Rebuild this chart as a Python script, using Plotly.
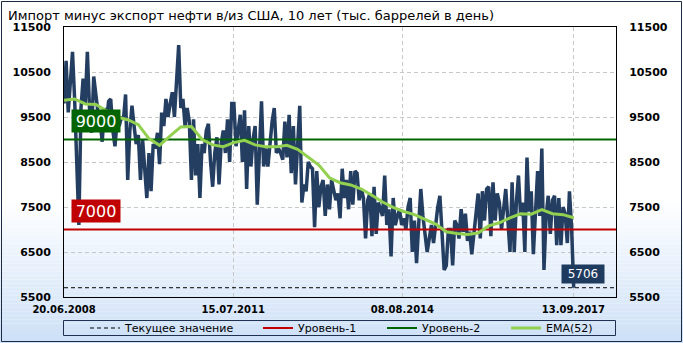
import plotly.graph_objects as go
import pandas as pd

# ---------------- data ----------------
title_text = "Импорт минус экспорт нефти в/из США, 10 лет (тыс. баррелей в день)"
start_date = "2008-06-20"
end_date = "2017-09-15"
axis_end = "2018-06-22"
tick_dates = ["2008-06-20", "2011-07-15", "2014-08-08", "2017-09-13"]
tick_labels = ["20.06.2008", "15.07.2011", "08.08.2014", "13.09.2017"]
y_ticks = [5500, 6500, 7500, 8500, 9500, 10500, 11500]

values = [
    9800, 10750, 9600, 10300, 10950, 9900, 8600, 7100, 9700, 10350,
    9800, 10950, 9700, 9150, 10400, 9900, 9600, 9400, 8950, 9700,
    9400, 9850, 9900, 9200, 8850, 9400, 9300, 9500, 9450, 10000,
    8100, 9200, 9750, 9300, 8900, 9100, 8100, 9000, 8400, 7700,
    8700, 7850, 8900, 8800, 9150, 8450, 9600, 9300, 9900, 9500,
    9800, 10050, 9500, 10400, 11100, 9700, 9900, 9300, 9700, 9400,
    8100,
    9450, 8200, 8900, 7700, 8900, 8700, 9200, 9350, 8500,
    7950, 8700, 9050, 8000, 8900, 9200, 8700, 9450, 8500, 9800,
    9800, 8850, 9200, 9550, 8500, 9650, 7900, 9300, 8400, 9000,
    9300, 7550, 8700, 9850, 8400, 8800, 8400, 9000, 9400, 9700,
    8700, 8800, 8700, 8550, 9400, 8600, 9550, 8250, 9300, 8000,
    8800, 9750, 7600, 8000, 7850, 8500, 8400, 8350, 7050, 8300,
    7500, 7950, 8100, 7300, 8000, 7450, 8100, 7900, 7650, 7800,
    7250, 8350, 7700, 8100, 7450, 8300, 7550, 8300, 8250, 7650,
    7900, 7700, 6800, 7650, 7800, 6850, 7950, 6900, 7600, 7450,
    7300, 8200, 7100, 7450, 6400, 7700, 7100, 7300, 7450, 7100,
    7250, 7000, 7500, 7700, 6500, 7200, 6250, 7100, 7900, 7300,
    6900, 6500, 6800, 7100, 6700, 7200, 7500, 7750, 7000, 6100,
    6200, 7000, 7000, 6200, 7200, 7100, 6800, 7450, 6950, 7350,
    6750, 6950, 6450, 6950, 7500, 7800, 6800, 7850, 7200, 7900,
    7950, 6850, 8050, 7200, 7800, 7600, 7000, 7500, 7900, 7200,
    6500, 8050, 6500, 7600, 8200, 7300, 7600, 6500, 8600, 7400,
    7850, 6450, 7500, 8300, 7300, 8800, 6100, 7300, 7750, 6900,
    7650, 7750, 6650, 7700, 6650, 7500, 7350, 6700, 7850, 7050,
    5706,
]

ema_step = 5
ema_values = [
    9870, 9900, 9790, 9780, 9640, 9500, 9440, 9330, 9020, 8870,
    9080, 9280, 9290, 9000, 8880, 8840, 8930, 8980, 8880, 8840,
    8840, 8870, 8780, 8600, 8430, 8150, 8040, 7990, 7900, 7760,
    7610, 7490, 7400, 7330, 7225, 7120, 6950, 6910, 6890, 6920,
    7080, 7150, 7260, 7350, 7340, 7440, 7350, 7330, 7260,
]

levels = [7000, 9000]
level_names = ["Уровень-1", "Уровень-2"]
current_name = "Текущее значение"
ema_name = "EMA(52)"

# ---------------- styles ----------------
W, H = 683, 343
PL, PR, PT, PB = 64, 616, 27, 297
FONT = "DejaVu Sans"
navy = "#243e62"
level_colors = ["#c00000", "#006400"]
ema_color = "#92d050"
legend_px = [85, 258, 382, 506]   # left edges of the four legend entries


def px_x(x):
    return (x - PL) / (PR - PL)


def px_y(y):
    return (PB - y) / (PB - PT)


dates = pd.date_range(start=start_date, end=end_date, periods=len(values))
ema_dates = dates[::ema_step]
current = values[-1]

fig = go.Figure()

fig.add_trace(go.Scatter(
    x=dates, y=values, mode="lines", showlegend=False,
    line=dict(color=navy, width=3.5), hoverinfo="skip"))

fig.add_trace(go.Scatter(
    x=[start_date, axis_end], y=[current, current], mode="lines",
    name=current_name, yaxis="y2", legend="legend",
    line=dict(color="black", width=1, dash="4px,3px")))

for i, (lv, nm, col) in enumerate(zip(levels, level_names, level_colors)):
    fig.add_trace(go.Scatter(
        x=[start_date, axis_end], y=[lv, lv], mode="lines",
        name=nm, yaxis="y2", legend="legend%d" % (i + 2),
        line=dict(color=col, width=2)))

fig.add_trace(go.Scatter(
    x=ema_dates, y=ema_values, mode="lines", name=ema_name, yaxis="y2",
    legend="legend4", line=dict(color=ema_color, width=3)))

# level labels
for lv, col in zip(levels, level_colors):
    fig.add_annotation(
        x=start_date, y=lv, xref="x", yref="y", text=str(lv),
        showarrow=False, xanchor="left", yanchor="bottom",
        xshift=7, yshift=7, bgcolor=col, borderpad=1,
        width=46, height=20,
        font=dict(family=FONT, size=16, color="white"))

# current value label
fig.add_annotation(
    x=dates[-1], y=current, xref="x", yref="y", text=str(current),
    showarrow=False, xanchor="center", yanchor="bottom",
    xshift=9, yshift=4, bgcolor="#1f3a5f", borderpad=1,
    width=40, height=16,
    font=dict(family=FONT, size=12, color="white"))

# background gradient
shapes = []
g0, g1 = 200, 343
nb = 36
top_rgb = (255, 255, 255)
bot_rgb = (205, 224, 247)
for i in range(nb):
    ya = g0 + (g1 - g0) * i / nb
    yb = g0 + (g1 - g0) * (i + 1) / nb
    t = (i + 0.5) / nb
    c = tuple(round(top_rgb[j] + (bot_rgb[j] - top_rgb[j]) * t) for j in range(3))
    shapes.append(dict(
        type="rect", xref="paper", yref="paper", layer="below",
        x0=px_x(0), x1=px_x(W), y0=px_y(yb), y1=px_y(ya),
        fillcolor="rgb(%d,%d,%d)" % c, line=dict(width=0)))

# legend frame
shapes.append(dict(
    type="rect", xref="paper", yref="paper", layer="above",
    x0=px_x(63.5), x1=px_x(615.5), y0=px_y(335.5), y1=px_y(320.5),
    line=dict(color="#1f3050", width=1), fillcolor="rgba(0,0,0,0)"))
# outer frame
shapes.append(dict(
    type="rect", xref="paper", yref="paper", layer="above",
    x0=px_x(1.5), x1=px_x(681.5), y0=px_y(341.5), y1=px_y(1.5),
    line=dict(color="#1b2a45", width=1), fillcolor="rgba(0,0,0,0)"))

yaxis_common = dict(
    range=[y_ticks[0], y_ticks[-1]], tickvals=y_ticks, tickformat="d",
    ticks="", ticklabelstandoff=10,
    tickfont=dict(family=FONT, size=11, color="black", weight="bold"),
    showline=True, linecolor="black", linewidth=1, zeroline=False,
    fixedrange=True)

legend_style = dict(orientation="h", xanchor="left",
                    y=px_y(328), yanchor="middle",
                    bgcolor="rgba(0,0,0,0)", borderwidth=0,
                    font=dict(family=FONT, size=11, color="black"),
                    itemclick=False, itemdoubleclick=False)

fig.update_layout(
    width=W, height=H,
    margin=dict(l=PL, r=W - PR, t=PT, b=H - PB, pad=0, autoexpand=False),
    paper_bgcolor="white", plot_bgcolor="rgba(0,0,0,0)",
    title=dict(text=title_text, xref="container", yref="container",
               x=8 / W, xanchor="left", y=1 - 15.5 / H, yanchor="middle",
               font=dict(family=FONT, size=13, color="black")),
    xaxis=dict(
        type="date", range=[start_date, axis_end],
        tickvals=tick_dates, ticktext=tick_labels,
        ticks="", ticklabelstandoff=3,
        tickfont=dict(family=FONT, size=10, color="black", weight="bold"),
        showgrid=True, gridcolor="#c8c8c8", gridwidth=1, griddash="4px,3px",
        showline=True, linecolor="black", linewidth=1, mirror=True,
        zeroline=False, fixedrange=True),
    yaxis=dict(**yaxis_common, side="left", showgrid=True,
               gridcolor="#c8c8c8", gridwidth=1, griddash="4px,3px",
               mirror=True),
    yaxis2=dict(**yaxis_common, side="right", overlaying="y",
                showgrid=False),
    legend=dict(x=px_x(legend_px[0]), **legend_style),
    legend2=dict(x=px_x(legend_px[1]), **legend_style),
    legend3=dict(x=px_x(legend_px[2]), **legend_style),
    legend4=dict(x=px_x(legend_px[3]), **legend_style),
    shapes=shapes,
    showlegend=True,
    hovermode=False,
)

fig.write_html("out.html")
